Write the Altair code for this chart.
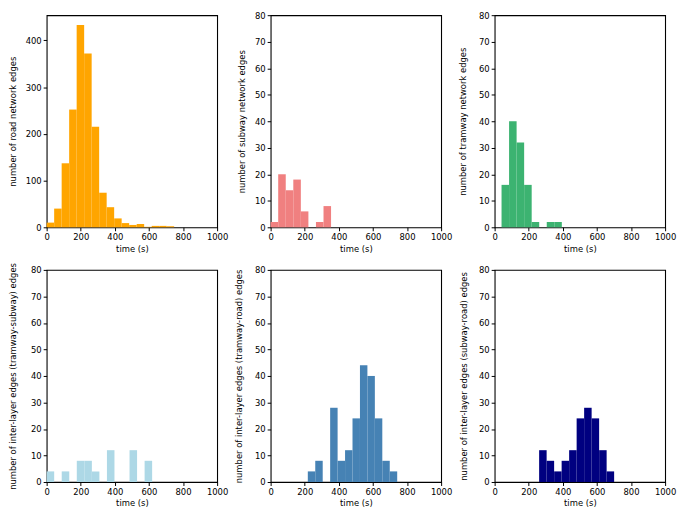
import altair as alt
import pandas as pd

# ---- data ----
road_counts = [10, 40, 137, 252, 433, 372, 215, 74, 43, 19, 9, 5, 7, 1, 3, 3, 2]
road_start, road_width = 0.0, 44.0

subway_counts = [2, 20, 14, 18, 6, 0, 2, 8]
subway_start, subway_width = 0.0, 44.3

tram_counts = [16, 40, 32, 16, 2, 0, 2, 2]
tram_start, tram_width = 40.5, 44.2

ts_counts = [4, 0, 4, 0, 8, 8, 4, 0, 12, 0, 0, 12, 0, 8]
ts_start, ts_width = 0.0, 44.2

tr_counts = [4, 8, 0, 28, 8, 12, 24, 44, 40, 24, 8, 4]
tr_start, tr_width = 218.0, 43.7

sr_counts = [12, 8, 4, 8, 12, 24, 28, 24, 12, 4]
sr_start, sr_width = 261.0, 44.0

x_ticks = [0, 200, 400, 600, 800, 1000]
road_y_ticks = [0, 100, 200, 300, 400]
other_y_ticks = [0, 10, 20, 30, 40, 50, 60, 70, 80]

FONT = "DejaVu Sans"
W, H = 172, 214


def panel(counts, start, width, color, ytitle, ymax, yticks, title_x):
    df = pd.DataFrame({
        "t0": [start + i * width for i in range(len(counts))],
        "t1": [start + (i + 1) * width for i in range(len(counts))],
        "n": counts,
    })
    return alt.Chart(df).mark_bar(color=color, orient="vertical").encode(
        x=alt.X("t0:Q",
                scale=alt.Scale(domain=[0, 1000], nice=False, zero=False, padding=0),
                axis=alt.Axis(values=x_ticks, title="time (s)", labelFlush=False,
                              labelOverlap=False, format="d")),
        x2="t1:Q",
        y=alt.Y("n:Q",
                scale=alt.Scale(domain=[0, ymax], nice=False, padding=0),
                axis=alt.Axis(values=yticks, title=ytitle, titleX=title_x,
                              titleY=H / 2, titleAngle=270,
                              titleBaseline="middle", titleAlign="center",
                              labelOverlap=False, format="d")),
        y2=alt.datum(0),
    ).properties(width=W, height=H)


p1 = panel(road_counts, road_start, road_width, "#ffa500",
           "number of road network edges", 454, road_y_ticks, -34)
p2 = panel(subway_counts, subway_start, subway_width, "#f08080",
           "number of subway network edges", 80, other_y_ticks, -29)
p3 = panel(tram_counts, tram_start, tram_width, "#3cb371",
           "number of tramway network edges", 80, other_y_ticks, -32)
p4 = panel(ts_counts, ts_start, ts_width, "#add8e6",
           "number of inter-layer edges (tramway-subway) edges", 80, other_y_ticks, -34)
p5 = panel(tr_counts, tr_start, tr_width, "#4682b4",
           "number of inter-layer edges (tramway-road) edges", 80, other_y_ticks, -32)
p6 = panel(sr_counts, sr_start, sr_width, "#000080",
           "number of inter-layer edges (subway-road) edges", 80, other_y_ticks, -31)

chart = alt.concat(p1, p2, p3, p4, p5, p6, columns=3,
                   spacing={"row": 43, "column": 54},
                   bounds="flush").properties(
    padding=0
).configure_view(
    stroke="black", strokeWidth=1.1
).configure_axis(
    grid=False, domain=False, tickColor="black", tickSize=3.5, tickWidth=1,
    labelColor="black", titleColor="black", labelFont=FONT, titleFont=FONT,
    labelFontSize=8.5, titleFontSize=8.5, titleFontWeight="normal",
    labelPadding=2, titlePadding=3
)

chart.save("out.html", embed_options={"renderer": "svg", "actions": False})
